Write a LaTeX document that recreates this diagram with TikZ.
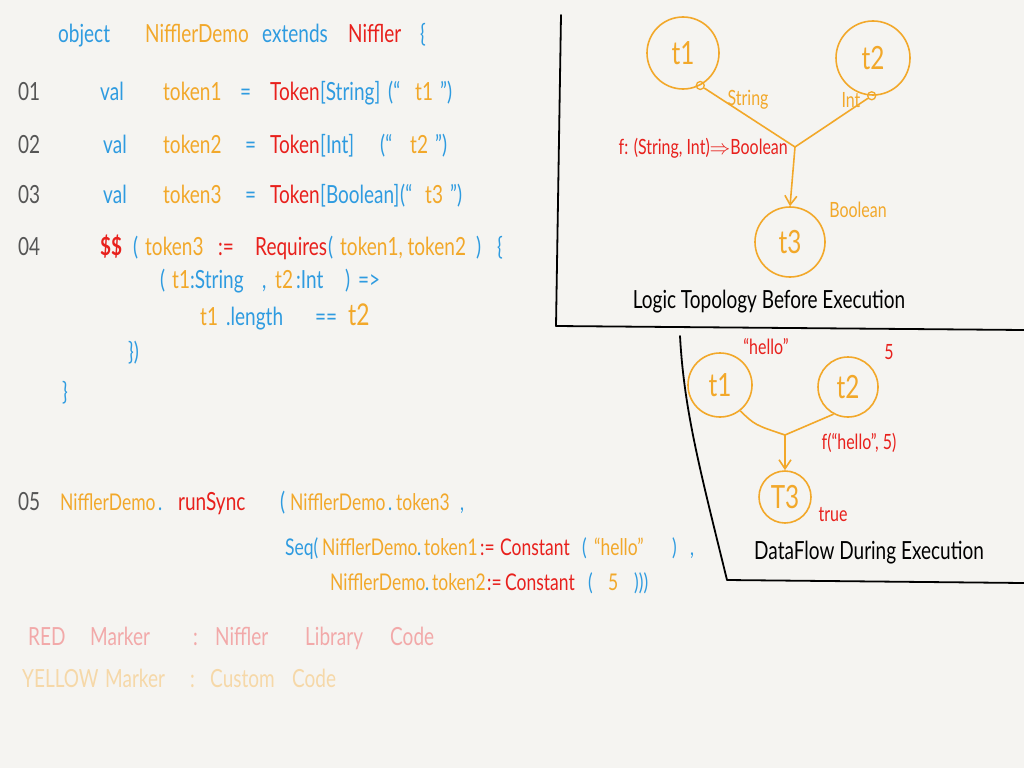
\documentclass[tikz,border=0pt]{standalone}
\usepackage{fontspec}
\setmainfont{Lato}
\newfontfamily\hand{Lato}[FakeStretch=0.76]
\usetikzlibrary{arrows.meta}
\definecolor{bg}{HTML}{F5F4F1}
\definecolor{cb}{HTML}{2E9BE0}
\definecolor{co}{HTML}{F2A82A}
\definecolor{cr}{HTML}{E8201C}
\definecolor{cg}{HTML}{555555}
\definecolor{lr}{HTML}{F2A9A9}
\definecolor{ly}{HTML}{F6D8A8}
\tikzset{
  code/.style={anchor=base west, inner sep=0pt, font=\hand\fontsize{25}{28}\selectfont},
  B/.style={code, text=cb},
  O/.style={code, text=co},
  R/.style={code, text=cr},
  G/.style={code, text=cg},
  sm/.style={font=\hand\fontsize{23}{26}\selectfont},
  circ/.style={circle, draw=co, line width=1.6pt, text=co, font=\hand\fontsize{32}{36}\selectfont, inner sep=0pt},
  port/.style={circle, draw=co, line width=1.3pt, minimum size=8pt, inner sep=0pt},
  wire/.style={draw=co, line width=1.6pt},
  lab/.style={inner sep=0pt, font=\hand\fontsize{21}{24}\selectfont},
  title/.style={inner sep=0pt, text=black, font=\hand\fontsize{25}{28}\selectfont},
  frame/.style={draw=black, line width=1.8pt, line cap=round, line join=round},
}
\begin{document}
\begin{tikzpicture}[x=1pt, y=-1pt]
\useasboundingbox (0,0) rectangle (1024,768);
\fill[bg] (0,0) rectangle (1024,768);

% ---------- code ----------
\node[B] (a1) at (58,42) {object};
\node[O] (a2) at (145,42) {NifflerDemo};
\node[B] (a3) at (262,42) {extends};
\node[R] (a4) at (348,42) {Niffler};
\node[B] (a5) at (420,42) {\{};

\node[G] (n1) at (18,100) {01};
\node[B] (b1) at (100,100) {val};
\node[O] (b2) at (163,100) {token1};
\node[B] (b3) at (240,100) {=};
\node[R] (b4) at (270,100) {Token};
\node[B] (b5) at (320,100) {[String]};
\node[B] (b6) at (388,100) {(“};
\node[O] (b7) at (415,100) {t1};
\node[B] (b8) at (440,100) {”)};

\node[G] (n2) at (18,153) {02};
\node[B] (c1) at (103,153) {val};
\node[O] (c2) at (163,153) {token2};
\node[B] (c3) at (245,153) {=};
\node[R] (c4) at (270,153) {Token};
\node[B] (c5) at (320,153) {[Int]};
\node[B] (c6) at (380,153) {(“};
\node[O] (c7) at (410,153) {t2};
\node[B] (c8) at (435,153) {”)};

\node[G] (n3) at (18,203) {03};
\node[B] (d1) at (103,203) {val};
\node[O] (d2) at (163,203) {token3};
\node[B] (d3) at (245,203) {=};
\node[R] (d4) at (270,203) {Token};
\node[B] (d5) at (320,203) {[Boolean]};
\node[B] (d6) at (400,203) {(“};
\node[O] (d7) at (425,203) {t3};
\node[B] (d8) at (450,203) {”)};

\node[G] (n4) at (18,255) {04};
\node[R] (e1) at (100,255) {\bfseries\$\$};
\node[B] (e2) at (133,255) {(};
\node[O] (e3) at (145,255) {token3};
\node[R] (e4) at (218,255) {:=};
\node[R] (e5) at (255,255) {Requires};
\node[B] (e6) at (328,255) {(};
\node[O] (e7) at (340,255) {token1, token2};
\node[B] (e8) at (476,255) {)};
\node[B] (e9) at (497,255) {\{};

\node[B] (f1) at (160,288) {(};
\node[O] (f2) at (172,288) {t1};
\node[B] (f3) at (190,288) {:String};
\node[B] (f4) at (262,288) {,};
\node[O] (f5) at (275,288) {t2};
\node[B] (f6) at (296,288) {:Int};
\node[B] (f7) at (345,288) {)};
\node[B] (f8) at (358,288) {=>};

\node[O] (g1) at (200,325) {t1};
\node[B] (g2) at (226,325) {.length};
\node[B] (g3) at (315,325) {==};
\node[O, font=\hand\fontsize{30}{32}\selectfont] (g4) at (348,325) {t2};

\node[B] (h1) at (128,360) {\})};
\node[B] (h2) at (62,400) {\}};

\node[G] (n5) at (18,510) {05};
\node[O, sm] (i1) at (60,510) {NifflerDemo};
\node[B, sm] (i2) at (158,510) {.};
\node[R] (i3) at (178,510) {runSync};
\node[B] (i4) at (280,510) {(};
\node[O, sm] (i5) at (290,510) {NifflerDemo};
\node[B, sm] (i6) at (388,510) {.};
\node[O, sm] (i7) at (396,510) {token3};
\node[B, sm] (i8) at (460,510) {,};

\node[B, sm] (j1) at (285,555) {Seq(};
\node[O, sm] (j2) at (322,555) {NifflerDemo};
\node[B, sm] (j3) at (417,555) {.};
\node[O, sm] (j4) at (424,555) {token1};
\node[R, sm] (j5) at (480,555) {:=};
\node[R, sm] (j6) at (500,555) {Constant};
\node[B, sm] (j7) at (582,555) {(};
\node[O, sm] (j8) at (594,555) {“hello”};
\node[B, sm] (j9) at (672,555) {)};
\node[B, sm] (j10) at (690,555) {,};

\node[O, sm] (k1) at (330,590) {NifflerDemo};
\node[B, sm] (k2) at (425,590) {.};
\node[O, sm] (k3) at (432,590) {token2};
\node[R, sm] (k4) at (487,590) {:=};
\node[R, sm] (k5) at (505,590) {Constant};
\node[B, sm] (k6) at (588,590) {(};
\node[O, sm] (k7) at (608,590) {5};
\node[B, sm] (k8) at (634,590) {)))};

% ---------- legend ----------
\node[code, text=lr] (m1) at (28,645) {RED};
\node[code, text=lr] (m2) at (90,645) {Marker};
\node[code, text=lr] (m3) at (193,645) {:};
\node[code, text=lr] (m4) at (215,645) {Niffler};
\node[code, text=lr] (m5) at (305,645) {Library};
\node[code, text=lr] (m6) at (390,645) {Code};
\node[code, text=ly] (y1) at (22,687) {YELLOW};
\node[code, text=ly] (y2) at (105,687) {Marker};
\node[code, text=ly] (y3) at (190,687) {:};
\node[code, text=ly] (y4) at (210,687) {Custom};
\node[code, text=ly] (y5) at (292,687) {Code};

% ---------- frames ----------
\draw[frame] (561,15) -- (556,326) -- (1024,330);
\draw[frame] (680,336) .. controls (684,410) and (700,470) .. (727,580) -- (1024,583);

% ---------- logic topology ----------
\node[circ, minimum size=72pt] (t1) at (683,53) {t1};
\node[circ, minimum size=74pt] (t2) at (873,58) {t2};
\node[circ, minimum size=70pt] (t3) at (790,242) {t3};
\node[port] (p1) at (t1.-62) {};
\node[port] (p2) at (t2.-92) {};
\coordinate (jn) at (795,147);
\draw[wire] (p1) -- (jn);
\draw[wire] (p2) -- (jn);
\draw[wire, -{Straight Barb[length=9pt, width=12pt]}] (jn) -- (t3.north);
\node[lab, text=co] (ls) at (748,100) {String};
\node[lab, text=co] (li) at (851,100) {Int};
\node[lab, text=cr, anchor=east] (lf) at (788,148) {f: (String, Int)$\Rightarrow$Boolean};
\node[lab, text=co] (lb) at (858,210) {Boolean};
\node[title] (lt) at (769,302) {Logic Topology Before Execution};

% ---------- data flow ----------
\node[circ, minimum size=64pt] (u1) at (720,385) {t1};
\node[circ, minimum size=60pt] (u2) at (848,387) {t2};
\node[circ, minimum size=52pt] (u3) at (785,497) {T3};
\coordinate (kn) at (785,435);
\draw[wire] (u1.-52) .. controls (755,425) .. (kn);
\draw[wire] (u2.-118) .. controls (810,425) .. (kn);
\draw[wire, -{Straight Barb[length=9pt, width=12pt]}] (kn) -- (u3.north);
\node[lab, text=cr] (vh) at (766,347) {“hello”};
\node[lab, text=cr] (v5) at (889,352) {5};
\node[lab, text=cr] (vf) at (859,443) {f(“hello”, 5)};
\node[lab, text=cr] (vt) at (833,515) {true};
\node[title] (ld) at (869,553) {DataFlow During Execution};
\end{tikzpicture}
\end{document}
